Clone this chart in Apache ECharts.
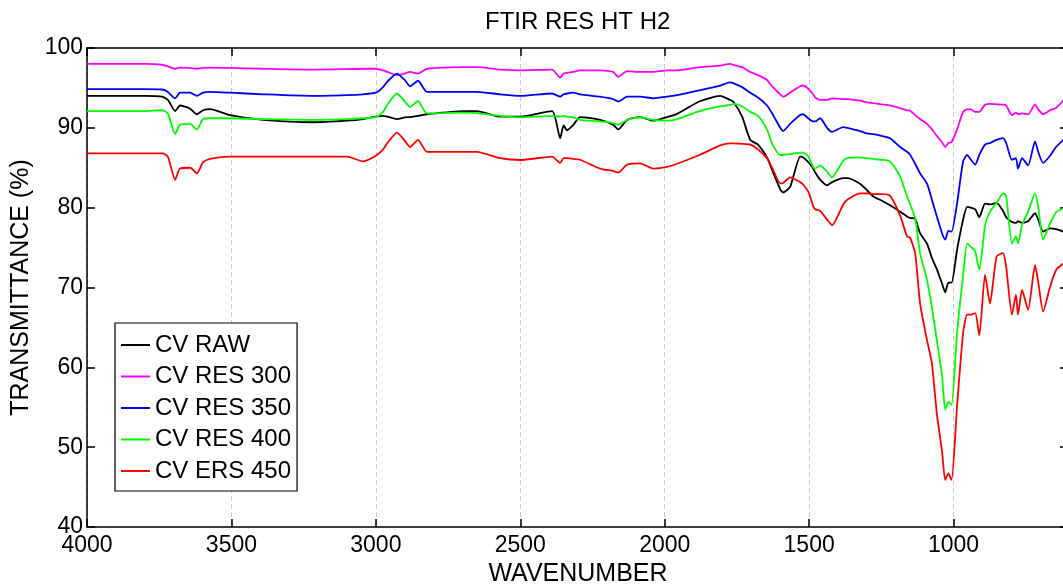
<!DOCTYPE html>
<html>
<head>
<meta charset="utf-8" />
<title>FTIR RES HT H2</title>
<style>
  html, body { margin: 0; padding: 0; background: #fff; }
  #chartBox { width: 1063px; height: 585px; }
</style>
</head>
<body>
<div id="chartBox"></div>
<script src="https://cdn.jsdelivr.net/npm/echarts@6.0.0/dist/echarts.min.js"></script>
<script>
// wavenumber samples (cm-1), shared by all curves
var wavenumbers = [4000, 3800, 3740, 3720, 3695, 3678, 3643, 3620, 3598, 3574,
  3505, 3390, 3217, 3100, 3044, 3000, 2975, 2960, 2927, 2900,
  2882, 2854, 2823, 2700, 2650, 2570, 2500, 2390, 2362, 2350,
  2338, 2317, 2293, 2224, 2179, 2161, 2130, 2085, 2040, 1992,
  1957, 1880, 1808, 1774, 1763, 1732, 1704, 1677, 1646, 1628,
  1600, 1590, 1566, 1531, 1521, 1503, 1486, 1479, 1462, 1438,
  1421, 1382, 1368, 1324, 1300, 1278, 1250, 1220, 1185, 1161,
  1150, 1133, 1116, 1092, 1075, 1058, 1040, 1029, 1018, 1007,
  988, 967, 953, 940, 925, 911, 891, 874, 851, 829,
  818, 798, 784, 777, 763, 742, 718, 707, 690, 666,
  645, 620];

var seriesNames = ['CV RAW', 'CV RES 300', 'CV RES 350', 'CV RES 400', 'CV ERS 450'];
var seriesColors = ['#000000', '#ff00ff', '#0000ff', '#00ff00', '#ff0000'];

var cvRaw = [94.0, 94.0, 93.9, 93.5, 92.1, 92.8, 92.4, 91.7, 92.2, 92.35,
  91.6, 91.0, 90.7, 90.9, 91.1, 91.4, 91.5, 91.4, 91.1, 91.3,
  91.35, 91.5, 91.7, 92.1, 92.1, 91.4, 91.4, 92.1, 88.7, 90.3,
  89.7, 90.35, 91.35, 91.0, 90.4, 89.8, 91.0, 91.35, 90.9, 91.35,
  91.75, 93.3, 94.0, 93.5, 93.3, 91.4, 88.5, 87.9, 86.3, 84.7,
  82.3, 81.9, 82.6, 86.4, 86.3, 85.7, 84.9, 84.4, 83.5, 82.8,
  83.2, 83.7, 83.7, 83.0, 82.2, 81.4, 80.9, 80.3, 79.5, 78.9,
  78.7, 78.6, 76.8, 75.5, 73.7, 72.3, 70.5, 69.4, 70.6, 70.6,
  74.7, 78.5, 80.1, 80.0, 79.8, 78.8, 80.5, 80.4, 80.6, 79.6,
  78.8, 78.2, 78.1, 78.3, 78.1, 78.3, 79.3, 78.5, 77.0, 77.4,
  77.3, 77.0];

var cvRes300 = [98.0, 98.0, 97.9, 97.7, 97.4, 97.55, 97.5, 97.4, 97.5, 97.55,
  97.5, 97.4, 97.3, 97.35, 97.4, 97.4, 97.2, 97.0, 96.6, 96.8,
  97.0, 96.8, 97.4, 97.6, 97.6, 97.3, 97.2, 97.3, 96.3, 96.8,
  96.9, 97.0, 97.2, 97.2, 97.0, 96.4, 97.1, 97.0, 97.0, 97.2,
  97.2, 97.6, 97.8, 98.0, 97.9, 97.6, 97.0, 96.6, 96.0, 95.2,
  94.2, 93.9, 94.4, 95.2, 95.3, 94.9, 94.2, 93.8, 93.5, 93.5,
  93.7, 93.6, 93.6, 93.4, 93.2, 93.1, 92.95, 92.8, 92.45, 92.2,
  92.15, 91.6, 91.1, 90.5, 89.8, 89.0, 88.2, 87.6, 88.1, 88.2,
  89.8, 92.0, 92.3, 92.3, 92.0, 92.0, 92.9, 93.0, 92.95, 92.9,
  92.8, 91.6, 91.9, 91.7, 91.8, 91.7, 92.95, 92.3, 91.7, 92.2,
  92.5, 93.4];

var cvRes350 = [94.86, 94.86, 94.8, 94.5, 93.7, 94.4, 94.4, 94.0, 94.4, 94.5,
  94.4, 94.2, 94.0, 94.1, 94.2, 94.4, 95.1, 95.8, 96.8, 96.0,
  95.2, 95.9, 94.5, 94.5, 94.5, 94.2, 94.0, 94.3, 93.9, 94.2,
  94.3, 94.4, 94.2, 93.9, 93.6, 93.3, 93.9, 93.9, 93.7, 93.9,
  94.1, 94.7, 95.3, 95.7, 95.6, 95.1, 94.4, 93.8, 92.8, 91.8,
  90.0, 89.6, 90.5, 91.6, 91.7, 91.2, 90.8, 90.8, 91.2, 90.0,
  89.5, 90.1, 90.0, 89.6, 89.3, 89.2, 89.0, 88.7, 87.6, 87.0,
  86.6, 85.5, 84.3, 83.0, 81.0, 78.9, 76.8, 76.0, 77.1, 77.0,
  80.5, 85.8, 86.6, 86.0, 85.4, 86.6, 87.9, 88.1, 88.5, 88.7,
  88.1, 86.0, 86.2, 84.9, 86.2, 85.3, 88.3, 87.0, 85.6, 86.5,
  87.6, 88.5];

var cvRes400 = [92.1, 92.1, 92.2, 91.8, 89.2, 90.4, 90.5, 89.8, 91.1, 91.2,
  91.2, 91.1, 91.0, 91.1, 91.2, 91.35, 92.0, 92.9, 94.3, 93.3,
  92.6, 93.36, 91.8, 91.9, 91.85, 91.5, 91.3, 91.5, 91.4, 91.5,
  91.4, 91.3, 91.0, 90.8, 90.6, 90.4, 91.0, 91.3, 91.0, 90.9,
  91.1, 92.1, 92.7, 92.86, 93.0, 92.7, 92.0, 91.5, 89.8, 88.0,
  86.6, 86.6, 86.7, 86.9, 86.9, 86.4, 85.1, 84.9, 85.3, 84.5,
  83.8, 85.9, 86.2, 86.3, 86.2, 86.1, 86.0, 85.8, 83.9, 81.4,
  80.4, 78.7, 74.3, 70.9, 67.5, 63.4, 59.0, 54.7, 55.7, 55.3,
  64.3, 71.5, 75.5, 75.1, 74.5, 72.2, 77.8, 79.5, 80.6, 81.8,
  81.5, 75.5, 76.4, 75.5, 77.8, 79.5, 81.8, 80.1, 76.0, 78.0,
  79.4, 79.9];

var cvErs450 = [86.8, 86.8, 86.8, 86.4, 83.5, 84.9, 85.0, 84.3, 85.7, 86.1,
  86.4, 86.4, 86.4, 86.4, 85.8, 86.5, 87.3, 88.1, 89.4, 88.4,
  87.6, 88.5, 87.0, 87.0, 87.0, 86.2, 85.97, 86.4, 85.6, 86.2,
  86.2, 86.1, 86.0, 84.9, 84.6, 84.4, 85.4, 85.55, 84.9, 85.1,
  85.5, 86.6, 87.8, 88.06, 88.06, 88.0, 87.9, 87.3, 86.2, 85.0,
  83.05, 83.1, 83.8, 83.2, 82.9, 82.0, 80.2, 79.8, 79.6, 78.5,
  77.8, 80.4, 81.0, 81.8, 81.8, 81.7, 81.7, 81.5, 79.0, 76.4,
  76.2, 74.3, 68.0, 63.4, 60.5, 54.2, 49.5, 45.9, 46.7, 45.9,
  55.1, 64.3, 66.6, 66.6, 66.8, 64.0, 71.6, 68.0, 73.9, 74.3,
  72.6, 66.6, 69.1, 66.6, 69.7, 67.2, 72.8, 70.7, 67.0, 70.1,
  72.2, 73.0];

var allValues = [cvRaw, cvRes300, cvRes350, cvRes400, cvErs450];

var _font = 'Liberation Sans, Arial, sans-serif';

function toPairs(valArr) {
  var sb = [];
  for (var i = 0; i < wavenumbers.length; i++) {
    sb.push([wavenumbers[i], valArr[i]]);
  }
  return sb;
}

var myChart = echarts.init(document.getElementById('chartBox'), null, { renderer: 'canvas' });

var series = [];
for (var i = 0; i < seriesNames.length; i++) {
  series.push({
    name: seriesNames[i],
    type: 'line',
    xAxisIndex: 0,
    yAxisIndex: 0,
    symbol: 'none',
    smooth: 0.2,
    lineStyle: { color: seriesColors[i], width: 1.8 },
    itemStyle: { color: seriesColors[i] },
    data: toPairs(allValues[i])
  });
}

var xBase = {
  type: 'value',
  min: 500,
  max: 4000,
  interval: 500,
  inverse: true,
  axisLine: { show: true, lineStyle: { color: '#000', width: 1.5 } },
  axisTick: { show: true, inside: true, length: 8, lineStyle: { color: '#000', width: 1.5 } }
};

var option = {
  animation: false,
  backgroundColor: '#fff',
  title: {
    text: 'FTIR RES HT H2',
    left: 480,
    top: 5,
    textStyle: { fontFamily: _font, fontSize: 24, fontWeight: 'normal', color: '#000' }
  },
  legend: {
    orient: 'vertical',
    left: 115,
    top: 323,
    padding: [10, 6, 8, 6],
    itemGap: 7.5,
    itemWidth: 29,
    itemHeight: 2,
    icon: 'rect',
    borderColor: '#000',
    borderWidth: 1.2,
    backgroundColor: '#fff',
    data: seriesNames,
    textStyle: { fontFamily: _font, fontSize: 24, color: '#000', padding: [0, 0, 0, 0] }
  },
  // the frame runs a little past the right edge of the picture
  grid: { left: 87, top: 48, width: 1011, height: 479, containLabel: false, outerBoundsMode: 'none' },
  xAxis: [
    echarts.util.merge({
      position: 'bottom',
      name: 'WAVENUMBER',
      nameLocation: 'middle',
      nameGap: 34,
      // pushed left so it sits under the visible part of the axis
      nameTextStyle: { fontFamily: _font, fontSize: 25, color: '#000', padding: [0, 29, 0, 0] },
      axisLabel: {
        margin: 7,
        fontFamily: _font,
        fontSize: 23,
        color: '#000',
        formatter: function (v) { return v < 1000 ? '' : String(v); }
      },
      splitLine: { show: true, lineStyle: { color: '#cccccc', type: [5, 3], width: 1 } }
    }, xBase, true),
    echarts.util.merge({
      position: 'top',
      axisLabel: { show: false },
      splitLine: { show: false }
    }, xBase, true)
  ],
  yAxis: [
    {
      type: 'value',
      position: 'left',
      min: 40,
      max: 100,
      interval: 10,
      name: 'TRANSMITTANCE (%)',
      nameLocation: 'middle',
      nameGap: 45,
      nameTextStyle: { fontFamily: _font, fontSize: 25, color: '#000' },
      axisLine: { show: true, lineStyle: { color: '#000', width: 1.5 } },
      axisTick: { show: true, inside: true, length: 8, lineStyle: { color: '#000', width: 1.5 } },
      axisLabel: { margin: 4, fontFamily: _font, fontSize: 23, color: '#000' },
      splitLine: { show: false }
    },
    {
      // right frame: only its inward ticks fall inside the picture
      type: 'value',
      position: 'right',
      offset: -32,
      min: 40,
      max: 100,
      interval: 10,
      axisLine: { show: true, lineStyle: { color: '#000', width: 1.5 } },
      axisTick: { show: true, inside: true, length: 6, lineStyle: { color: '#000', width: 1.5 } },
      axisLabel: { show: false },
      splitLine: { show: false }
    }
  ],
  series: series
};

myChart.setOption(option);
</script>
</body>
</html>
